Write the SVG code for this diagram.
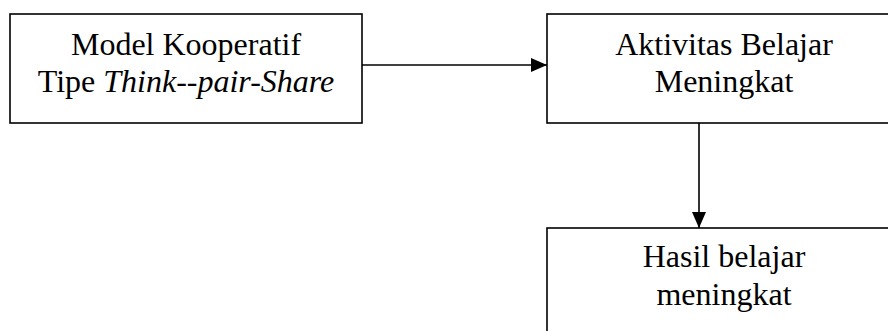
<svg xmlns="http://www.w3.org/2000/svg" width="888" height="331" viewBox="0 0 888 331">
<style>
.box{fill:#fff;stroke:#000;stroke-width:1.6}
.t{font-family:'Liberation Serif',serif;font-size:32px;fill:#000;text-anchor:middle}
.c{stroke:#000;stroke-width:1.6;fill:none}
</style>
<defs>
<marker id="ah2" viewBox="0 0 16 14" refX="16" refY="7" markerWidth="16" markerHeight="14" markerUnits="userSpaceOnUse" orient="auto">
<path d="M0,0 L16,7 L0,14 z" fill="#000"/>
</marker>
</defs>
<rect width="888" height="331" fill="#fff"/>
<g id="n1">
<rect class="box" x="10" y="14" width="352" height="109"/>
<text class="t" font-family="Liberation Serif, serif" x="186" y="55">Model Kooperatif</text>
<text class="t" font-family="Liberation Serif, serif" x="186" y="92">Tipe <tspan font-style="italic">Think--pair-Share</tspan></text>
</g>
<g id="n2">
<rect class="box" x="547" y="14" width="354" height="109"/>
<text class="t" font-family="Liberation Serif, serif" x="724" y="55">Aktivitas Belajar</text>
<text class="t" font-family="Liberation Serif, serif" x="724" y="92">Meningkat</text>
</g>
<g id="n3">
<rect class="box" x="547" y="228" width="354" height="120"/>
<text class="t" font-family="Liberation Serif, serif" x="724" y="267">Hasil belajar</text>
<text class="t" font-family="Liberation Serif, serif" x="724" y="305">meningkat</text>
</g>
<g id="connectors">
<line class="c" x1="362" y1="65" x2="547" y2="65" marker-end="url(#ah2)"/>
<line class="c" x1="699" y1="123" x2="699" y2="228" marker-end="url(#ah2)"/>
</g>
</svg>
